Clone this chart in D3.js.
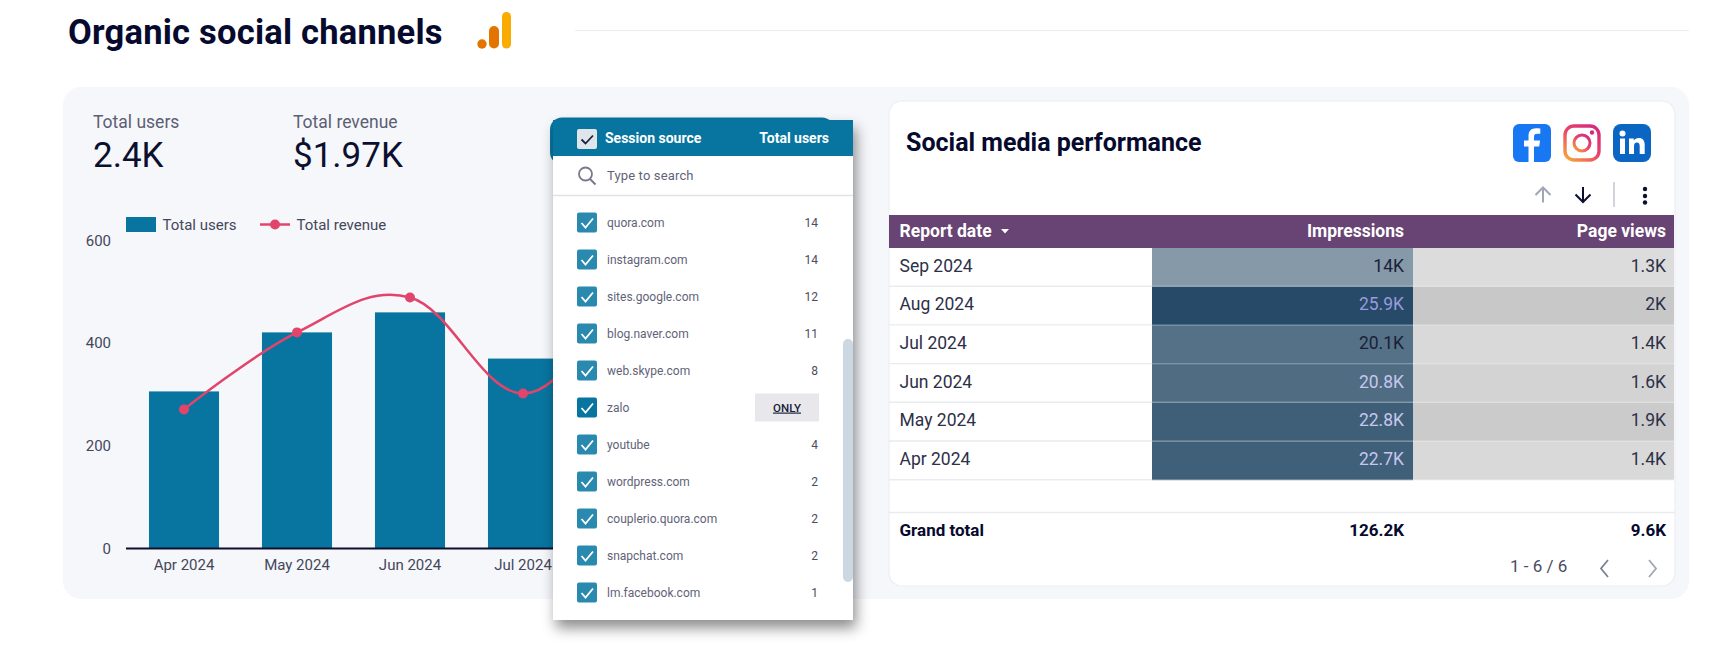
<!DOCTYPE html>
<html><head><meta charset="utf-8">
<script src="https://cdn.jsdelivr.net/npm/d3@7/dist/d3.min.js"></script>
<style>
html,body{margin:0;padding:0;background:#fff;overflow:hidden}
svg{display:block;font-family:Roboto,sans-serif}
text{font-family:Roboto,sans-serif}
</style></head><body><div id="chart"></div>
<script>
// ---- data ----
const months = ["Apr 2024","May 2024","Jun 2024","Jul 2024","Aug 2024","Sep 2024"];
const visibleMonths = ["Apr 2024","May 2024","Jun 2024","Jul 2024"];
const totalUsers = [306,421,460,370,430,413];
const totalRevenue = [271,421,489,302,480,400];
const yTicks = [0,200,400,600];
const kpiLabels = ["Total users","Total revenue"];
const kpiValues = ["2.4K","$1.97K"];
const sources = ["quora.com","instagram.com","sites.google.com","blog.naver.com","web.skype.com","zalo","youtube","wordpress.com","couplerio.quora.com","snapchat.com","lm.facebook.com"];
const sourceUsers = [14,14,12,11,8,6,4,2,2,2,1];
const hoveredSource = "zalo";
const tableMonths = ["Sep 2024","Aug 2024","Jul 2024","Jun 2024","May 2024","Apr 2024"];
const impressions = [14,25.9,20.1,20.8,22.8,22.7];
const pageViews = [1.3,2,1.4,1.6,1.9,1.4];
const impressionLabels = ["14K","25.9K","20.1K","20.8K","22.8K","22.7K"];
const pageViewLabels = ["1.3K","2K","1.4K","1.6K","1.9K","1.4K"];
const totals = ["Grand total","126.2K","9.6K"];
const tableHeaders = ["Report date","Impressions","Page views"];

// ---- canvas ----
const W=1711,H=653;
const svg=d3.select("#chart").append("svg").attr("width",W).attr("height",H).attr("viewBox",[0,0,W,H]);
const defs=svg.append("defs");
const f=defs.append("filter").attr("id","pop").attr("x","-15%").attr("y","-10%").attr("width","130%").attr("height","125%");
f.append("feDropShadow").attr("dx",3).attr("dy",8).attr("stdDeviation",7).attr("flood-color","#000").attr("flood-opacity",.45);
const ig=defs.append("linearGradient").attr("id","ig").attr("x1","0.1").attr("y1","1").attr("x2","0.9").attr("y2","0");
ig.append("stop").attr("offset","0").attr("stop-color","#f9a13a");
ig.append("stop").attr("offset",".5").attr("stop-color","#e8456b");
ig.append("stop").attr("offset","1").attr("stop-color","#d6297f");

const txt=(g,x,y,s,o={})=>g.append("text").attr("x",x).attr("y",y).attr("dy",".35em")
  .attr("font-size",o.size||14).attr("font-weight",o.weight||400).attr("fill",o.fill||"#3c3f52")
  .attr("text-anchor",o.anchor||"start").attr("letter-spacing",o.ls||null).text(s);

// header
txt(svg,68,32,"Organic social channels",{size:34.5,weight:700,fill:"#060a2e",ls:".22px"});
svg.append("line").attr("x1",575).attr("x2",1689).attr("y1",30.5).attr("y2",30.5).attr("stroke","#e8edf3").attr("stroke-width",1.2);
const ga=svg.append("g");
ga.append("rect").attr("x",502).attr("y",12).attr("width",9).attr("height",36.5).attr("rx",4.5).attr("fill","#f9ab00");
ga.append("rect").attr("x",489).attr("y",26).attr("width",10).attr("height",22.5).attr("rx",5).attr("fill","#e37400");
ga.append("circle").attr("cx",482).attr("cy",44).attr("r",4.7).attr("fill","#e37400");

// panel
svg.append("rect").attr("x",63).attr("y",87).attr("width",1626).attr("height",512).attr("rx",18).attr("fill","#f6f7fb");

// KPIs
[93,293].forEach((x,i)=>{
  txt(svg,x,122,kpiLabels[i],{size:17.5,fill:"#5c5f72"});
  txt(svg,x,154.5,kpiValues[i],{size:35,fill:"#0c1030"});
});

// chart
const x=d3.scaleBand().domain(months).range([127.5,805.5]).paddingInner(.38).paddingOuter(.19);
const y=d3.scaleLinear().domain([0,600]).range([548.5,240.5]);
const chart=svg.append("g");
chart.selectAll(".bar").data(months).join("rect").attr("class","bar")
  .attr("x",d=>x(d)).attr("width",x.bandwidth())
  .attr("y",(d,i)=>y(totalUsers[i])).attr("height",(d,i)=>y(0)-y(totalUsers[i]))
  .attr("fill","#07759f");
const yAxis=chart.append("g").attr("transform","translate(126,0)").call(d3.axisLeft(y).tickValues(yTicks).tickSize(0).tickPadding(15));
yAxis.select(".domain").remove();
yAxis.selectAll("text").attr("font-size",15).attr("font-family","Roboto").attr("fill","#44475a");
const xAxis=chart.append("g").attr("transform","translate(0,548.5)").call(d3.axisBottom(x).tickValues(visibleMonths).tickSize(0).tickPadding(10.5));
xAxis.select(".domain").remove();
xAxis.selectAll("text").attr("font-size",15).attr("font-family","Roboto").attr("fill","#44475a");
chart.append("line").attr("x1",126).attr("x2",805).attr("y1",y(0)).attr("y2",y(0)).attr("stroke","#0c1030").attr("stroke-width",2);
const cx=d=>x(d)+x.bandwidth()/2;
const line=d3.line().x(d=>cx(d)).y((d,i)=>y(totalRevenue[i])).curve(d3.curveCardinal.tension(-.1));
chart.append("path").attr("d",line(months)).attr("fill","none").attr("stroke","#e2456b").attr("stroke-width",2.5);
chart.selectAll(".pt").data(months).join("circle").attr("class","pt").attr("cx",cx).attr("cy",(d,i)=>y(totalRevenue[i])).attr("r",5).attr("fill","#e2456b");

// legend
svg.append("rect").attr("x",126).attr("y",217).attr("width",30).attr("height",15).attr("fill","#07759f");
txt(svg,162.5,224.5,"Total users",{size:15,fill:"#44475a"});
svg.append("line").attr("x1",260).attr("x2",290).attr("y1",224.5).attr("y2",224.5).attr("stroke","#e2456b").attr("stroke-width",2.5);
svg.append("circle").attr("cx",275).attr("cy",224.5).attr("r",5).attr("fill","#e2456b");
txt(svg,296.5,224.5,"Total revenue",{size:15,fill:"#44475a"});

// popup
const pop=svg.append("g");
pop.append("rect").attr("x",550).attr("y",117.5).attr("width",284).attr("height",47).attr("rx",12).attr("fill","#07759f");
pop.append("rect").attr("x",553).attr("y",120).attr("width",300).attr("height",500).attr("fill","#fff").attr("filter","url(#pop)");
pop.append("rect").attr("x",553).attr("y",120).attr("width",300).attr("height",36).attr("fill","#07759f");
pop.append("rect").attr("x",577).attr("y",129).attr("width",20).attr("height",20).attr("rx",2).attr("fill","#dfe6ea");
pop.append("path").attr("d","M581.5 139.5l4 4 7.5-8").attr("fill","none").attr("stroke","#1d2340").attr("stroke-width",1.8);
txt(pop,605,138,"Session source",{size:14,weight:700,fill:"#fff"});
txt(pop,829,138,"Total users",{size:14,weight:700,fill:"#fff",anchor:"end"});
pop.append("circle").attr("cx",585.5).attr("cy",174).attr("r",6.5).attr("fill","none").attr("stroke","#77788c").attr("stroke-width",1.8);
pop.append("line").attr("x1",590).attr("y1",179).attr("x2",595.5).attr("y2",184.5).attr("stroke","#77788c").attr("stroke-width",2);
txt(pop,607,175,"Type to search",{size:13,fill:"#5f6378",ls:".15px"});
pop.append("line").attr("x1",553).attr("x2",853).attr("y1",195.5).attr("y2",195.5).attr("stroke","#e2e3e8").attr("stroke-width",1.3);
const rowY=d3.scalePoint().domain(sources).range([222.5,592.5]);
const rows=pop.selectAll(".src").data(sources).join("g").attr("class","src").attr("transform",d=>`translate(0,${rowY(d)})`);
rows.append("rect").attr("x",577).attr("y",-10).attr("width",20).attr("height",20).attr("rx",2).attr("fill",d=>d===hoveredSource?"#07759f":"#2a89ae");
rows.append("path").attr("d","M581.5 .5l4 4.5 7.5-9").attr("fill","none").attr("stroke","#fff").attr("stroke-width",1.8);
rows.append("text").attr("x",607).attr("dy",".35em").attr("font-size",12).attr("fill","#5f6378").text(d=>d);
rows.filter(d=>d!==hoveredSource).append("text").attr("x",818).attr("dy",".35em").attr("text-anchor","end").attr("font-size",12).attr("fill","#4a4d60").text((d)=>sourceUsers[sources.indexOf(d)]);
const only=rows.filter(d=>d===hoveredSource);
only.append("rect").attr("x",755).attr("y",-14).attr("width",64).attr("height",28).attr("fill","#e8e8ec");
only.append("text").attr("x",787).attr("dy",".35em").attr("text-anchor","middle").attr("font-size",11.5).attr("font-weight",500).attr("fill","#1a1d38").attr("text-decoration","underline").text("ONLY");
pop.append("rect").attr("x",843).attr("y",339).attr("width",10).attr("height",243).attr("rx",5).attr("fill","#cbd8e2");

// card
const card=svg.append("g");
card.append("rect").attr("x",889).attr("y",101).attr("width",786).attr("height",485).attr("rx",13).attr("fill","#fff").attr("stroke","#eceef3").attr("stroke-width",1.2);
txt(card,906,142.5,"Social media performance",{size:25,weight:700,fill:"#060a2e"});
// icons
const fb=card.append("g").attr("transform","translate(1513,124)");
fb.append("rect").attr("width",38).attr("height",38).attr("rx",6).attr("fill","#1877f2");
fb.append("path").attr("d","M21 38V22.5h5.2l.9-6H21v-3.6c0-1.9.8-3.1 3.3-3.1h3V4.6c-.9-.2-2.6-.4-4.3-.4-4.6 0-7.5 2.7-7.5 7.7v4.6H11v6h4.5V38z").attr("fill","#fff");
const insta=card.append("g").attr("transform","translate(1563,124)");
insta.append("rect").attr("x",2).attr("y",2).attr("width",34).attr("height",34).attr("rx",9).attr("fill","none").attr("stroke","url(#ig)").attr("stroke-width",3.4);
insta.append("circle").attr("cx",19).attr("cy",19).attr("r",8).attr("fill","none").attr("stroke","url(#ig)").attr("stroke-width",3);
insta.append("circle").attr("cx",29).attr("cy",8.5).attr("r",2.2).attr("fill","#d6297f");
const li=card.append("g").attr("transform","translate(1613,124)");
li.append("rect").attr("width",38).attr("height",38).attr("rx",8).attr("fill","#0a66c2");
li.append("rect").attr("x",7).attr("y",14.5).attr("width",5).attr("height",15.5).attr("fill","#fff");
li.append("circle").attr("cx",9.5).attr("cy",9.5).attr("r",3).attr("fill","#fff");
li.append("path").attr("d","M16 14.5h4.8v2.2c1-1.6 2.7-2.6 4.9-2.6 4.3 0 6 2.7 6 7V30h-5v-7.8c0-2.2-.7-3.8-2.7-3.8-2.2 0-3 1.7-3 3.8V30h-5z").attr("fill","#fff");
// toolbar
card.append("path").attr("d","M1543 202.5V187.5M1535.5 195l7.5-7.5 7.5 7.5").attr("fill","none").attr("stroke","#a2a5b3").attr("stroke-width",2);
card.append("path").attr("d","M1583 187V202M1575.5 194.5l7.5 7.5 7.5-7.5").attr("fill","none").attr("stroke","#0c1030").attr("stroke-width",2);
card.append("line").attr("x1",1614).attr("x2",1614).attr("y1",182).attr("y2",207).attr("stroke","#c3c5cf").attr("stroke-width",1.5);
[189,196,202.5].forEach(cy=>card.append("circle").attr("cx",1645).attr("cy",cy).attr("r",2.2).attr("fill","#0c1030"));

// table
const colX=[889,1152,1413,1674], tTop=248, rowH=38.7;
card.append("rect").attr("x",889).attr("y",215).attr("width",785).attr("height",33).attr("fill","#674473");
txt(card,899.5,230.5,tableHeaders[0],{size:17.5,weight:700,fill:"#fff"});
card.append("path").attr("d","M1001 229h8l-4 4.6z").attr("fill","#fff");
txt(card,1404,230.5,tableHeaders[1],{size:17.5,weight:700,fill:"#fff",anchor:"end"});
txt(card,1666,230.5,tableHeaders[2],{size:17.5,weight:700,fill:"#fff",anchor:"end"});
const impColor=d3.scaleLinear().domain([14,25.9]).range(["#8599a9","#264a67"]);
const pvColor=d3.scaleLinear().domain([1.3,2]).range(["#dcdcdc","#c8c8c8"]);
const impText=v=>v<20.5?"#1c1f38":(v>25?"#9a9ade":"#c6c6ee");
const rY=d3.scaleBand().domain(tableMonths).range([tTop,tTop+rowH*6]);
const tr=card.selectAll(".tr").data(tableMonths).join("g").attr("class","tr").attr("transform",d=>`translate(0,${rY(d)})`);
tr.append("rect").attr("x",colX[1]).attr("width",colX[2]-colX[1]).attr("height",rowH).attr("fill",(d,i)=>impColor(impressions[i]));
tr.append("rect").attr("x",colX[2]).attr("width",colX[3]-colX[2]).attr("height",rowH).attr("fill",(d,i)=>pvColor(pageViews[i]));
tr.append("line").attr("x1",colX[0]).attr("x2",colX[1]).attr("y1",rowH-.5).attr("y2",rowH-.5).attr("stroke","#e9ebef").attr("stroke-width",1.4);
tr.append("line").attr("x1",colX[1]).attr("x2",colX[3]).attr("y1",rowH-.5).attr("y2",rowH-.5).attr("stroke","#fff").attr("stroke-opacity",.25).attr("stroke-width",1.4);
const ty=rowH/2-1.8;
tr.append("text").attr("x",899.5).attr("y",ty).attr("dy",".35em").attr("font-size",17.5).attr("fill","#2d3048").text(d=>d);
tr.append("text").attr("x",1404).attr("y",ty).attr("dy",".35em").attr("text-anchor","end").attr("font-size",17.5).attr("fill",(d,i)=>impText(impressions[i])).text((d,i)=>impressionLabels[i]);
tr.append("text").attr("x",1666).attr("y",ty).attr("dy",".35em").attr("text-anchor","end").attr("font-size",17.5).attr("fill","#2d3048").text((d,i)=>pageViewLabels[i]);
card.append("line").attr("x1",889).attr("x2",1675).attr("y1",512.5).attr("y2",512.5).attr("stroke","#e9ebef").attr("stroke-width",1.3);
txt(card,899.5,530,totals[0],{size:17,weight:700,fill:"#060a2e"});
txt(card,1404,530,totals[1],{size:17,weight:700,fill:"#060a2e",anchor:"end"});
txt(card,1666,530,totals[2],{size:17,weight:700,fill:"#060a2e",anchor:"end"});
txt(card,1510,566,"1 - 6 / 6",{size:17,fill:"#4a4d60"});
card.append("path").attr("d","M1608 560l-7 8.5 7 8.5").attr("fill","none").attr("stroke","#7d8092").attr("stroke-width",1.8);
card.append("path").attr("d","M1649 560l7 8.5-7 8.5").attr("fill","none").attr("stroke","#a2a5b3").attr("stroke-width",1.8);
</script></body></html>
